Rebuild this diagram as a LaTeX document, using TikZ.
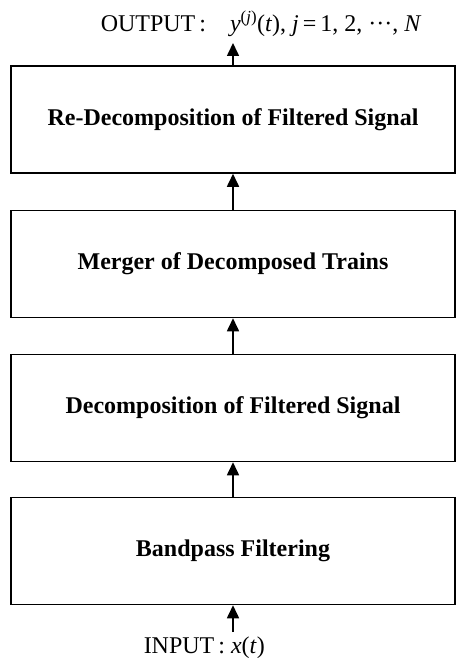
\documentclass[tikz,border=0pt]{standalone}
\usepackage{fontspec}
\setmainfont{Liberation Serif}
\usetikzlibrary{arrows.meta}

\begin{document}
\begin{tikzpicture}[x=1pt, y=-1pt, line width=1.5pt,
    stage/.style={draw, minimum width=444pt, minimum height=107pt,
      font=\fontsize{24}{28}\selectfont\bfseries},
    flow/.style={-{Triangle[width=12pt,length=13pt]}, line width=1.6pt},
    label/.style={font=\fontsize{24}{28}\selectfont, inner sep=0pt, anchor=base west}]
  \useasboundingbox (0, 0) rectangle (456, 658);

  \node[stage] (redec) at (233, 119.5) {Re-Decomposition of Filtered Signal};
  \node[stage] (merge) at (233, 264)   {Merger of Decomposed Trains};
  \node[stage] (dec)   at (233, 408)   {Decomposition of Filtered Signal};
  \node[stage] (bp)    at (233, 551)   {Bandpass Filtering};

  \coordinate (out) at (233, 43);
  \coordinate (in)  at (233, 632);

  \draw[flow] (in) -- (bp);
  \draw[flow] (bp) -- (dec);
  \draw[flow] (dec) -- (merge);
  \draw[flow] (merge) -- (redec);
  \draw[flow] (redec) -- (out);

  % output / input labels
  \node[label] (outlabel) at (100, 32)
    {OUTPUT\,:\quad \textit{y}\textsuperscript{(\textit{j})}(\textit{t}), \textit{j}\,=\,1, 2, \textperiodcentered\textperiodcentered\textperiodcentered, \textit{N}};
  \node[label] (inlabel) at (143, 653) {INPUT\,: \textit{x}(\textit{t})};
\end{tikzpicture}
\end{document}
